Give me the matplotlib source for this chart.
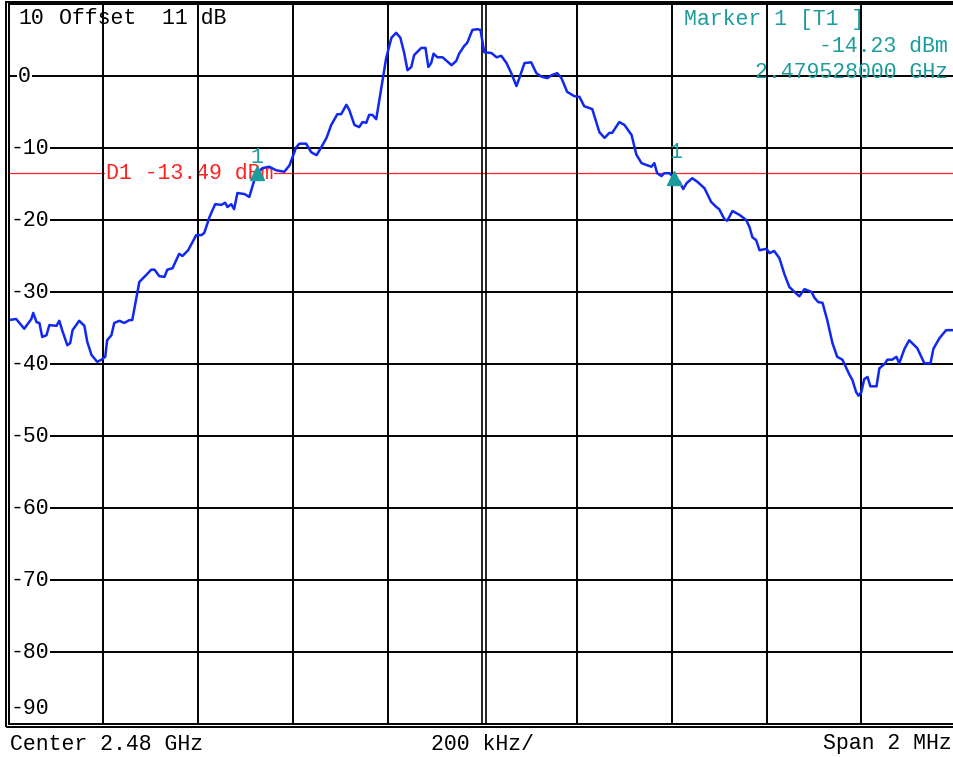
import matplotlib.pyplot as plt
from matplotlib.patches import Rectangle

# trace, offset from centre frequency (kHz) and level (dBm)
freq_khz = [-1000, -984, -967, -952, -948, -941, -935, -929, -920, -914, -899, -893,
            -887, -876, -870, -865, -851, -840, -834, -825, -813, -804, -796, -792,
            -783, -777, -766, -756, -745, -739, -724, -709, -699, -692, -682, -671,
            -665, -654, -640, -633, -621, -604, -593, -587, -576, -564, -551, -543,
            -538, -530, -524, -517, -502, -492, -477, -464, -450, -435, -418, -407,
            -393, -386, -372, -361, -350, -340, -329, -319, -306, -298, -287, -281,
            -270, -260, -253, -245, -239, -232, -224, -213, -203, -192, -182, -173,
            -165, -158, -150, -144, -129, -120, -114, -108, -103, -95, -84, -65,
            -55, -49, -38, -32, -21, -11, -4, 4, 19, 30, 40, 51,
            61, 72, 78, 89, 103, 114, 125, 137, 146, 158, 167, 179,
            194, 205, 215, 232, 247, 258, 268, 274, 289, 300, 315, 325,
            336, 348, 357, 363, 369, 378, 384, 395, 405, 416, 424, 431,
            443, 454, 469, 483, 494, 500, 511, 517, 528, 543, 557, 564,
            570, 578, 585, 600, 606, 616, 627, 638, 648, 659, 669, 680,
            695, 701, 709, 718, 728, 739, 749, 760, 775, 781, 789, 794,
            800, 806, 813, 819, 832, 838, 849, 855, 865, 874, 880, 891,
            901, 912, 918, 933, 946, 952, 965, 979, 1000]
level_dbm = [-33.9, -33.75, -35.1, -33.75, -32.9, -34.2, -34.3, -36.25, -36.0, -34.6, -34.7, -34.0,
             -35.3, -37.4, -37.1, -35.3, -34.0, -34.7, -36.9, -38.75, -39.7, -39.4, -39.0, -36.7,
             -36.0, -34.3, -34.0, -34.3, -33.9, -33.9, -28.6, -27.6, -26.9, -26.9, -27.8, -27.9,
             -26.9, -26.7, -24.7, -25.0, -24.2, -22.1, -22.1, -21.8, -19.6, -17.8, -17.9, -17.6,
             -18.2, -17.8, -18.5, -16.25, -16.4, -16.8, -13.5, -12.8, -12.6, -13.1, -13.3, -12.4,
             -9.9, -9.4, -9.4, -10.6, -11.0, -9.9, -8.6, -6.8, -5.3, -5.3, -4.0, -4.7,
             -6.8, -7.1, -6.4, -6.5, -5.4, -5.4, -6.0, -1.5, 2.5, 5.3, 6.0, 5.3,
             3.2, 0.8, 1.25, 2.9, 3.9, 3.9, 1.25, 1.8, 3.1, 2.6, 2.6, 1.5,
             2.1, 3.1, 4.2, 4.6, 6.4, 6.5, 6.4, 3.3, 3.2, 2.6, 2.8, 1.8,
             0.4, -1.4, -0.3, 1.8, 1.9, 0.4, -0.1, -0.3, 0.1, 0.4, -0.3, -2.2,
             -2.8, -2.9, -4.2, -4.6, -7.8, -8.6, -7.9, -7.9, -6.4, -6.8, -8.2, -10.9,
             -12.1, -12.4, -12.6, -12.1, -13.5, -13.9, -13.5, -13.5, -14.2, -14.7, -15.7, -14.9,
             -14.2, -14.7, -15.6, -17.5, -18.2, -18.5, -19.9, -20.1, -18.75, -19.3, -20.0, -21.0,
             -22.4, -22.8, -24.2, -24.0, -24.6, -24.3, -25.3, -27.6, -29.3, -30.0, -30.6, -29.6,
             -30.0, -30.8, -31.4, -31.5, -33.9, -37.1, -39.0, -39.4, -41.5, -42.2, -43.9, -44.4,
             -43.9, -42.1, -41.8, -43.1, -43.1, -40.6, -40.0, -39.4, -39.4, -39.0, -39.9, -37.9,
             -36.7, -37.4, -37.8, -39.9, -39.9, -37.9, -36.4, -35.3, -35.3]

marker_freq = [-475, 405]
marker_level = [-13.5, -14.23]
display_line = -13.49
y_ticks = [10, 0, -10, -20, -30, -40, -50, -60, -70, -80, -90]
v_grid = [-800, -600, -400, -200, 200, 400, 600, 800]

mono = 'Liberation Mono'
fs = 15.5
teal = '#1c9c9c'
red = '#ff2020'
blue = '#1028f0'

W, H = 954, 757
fig = plt.figure(figsize=(W / 100, H / 100), dpi=100)
ax = fig.add_axes([8.6 / W, 33 / H, 947.5 / W, 720 / H])
ax.set_xlim(-1000, 1000)
ax.set_ylim(-90, 10)
ax.set_xticks([])
ax.set_yticks([])
for s in ax.spines.values():
    s.set_linewidth(1.4)
    s.set_zorder(10)

# outer frame line
fig.add_artist(Rectangle((5.6 / W, 30 / H), 960 / W, 725.5 / H, transform=fig.transFigure,
                         fill=False, lw=1.4, ec='black'))

# grid
for v in y_ticks[1:-1]:
    ax.axhline(v, color='black', lw=1.4, zorder=3)
for f in v_grid:
    ax.axvline(f, color='black', lw=1.4, zorder=3)
ax.axvline(0, color='black', lw=1.2, zorder=3)
ax.axvline(7, color='black', lw=1.2, zorder=3)

# y labels
for v in y_ticks:
    dx = 1.5 if v < 0 else 9.5
    dy = 0
    if v == y_ticks[0]:
        dy = -14
    if v == y_ticks[-1]:
        dy = 16
    ax.annotate(str(v), xy=(0, v),
                xycoords=('axes fraction', 'data'), xytext=(dx * 0.72, dy * 0.72),
                textcoords='offset points', ha='left', va='center', family=mono,
                fontsize=fs, zorder=6,
                bbox=dict(fc='white', ec='none', pad=1.0))

# display line D1
ax.axhline(display_line, color=red, lw=0.9, zorder=1)
ax.annotate('D1 %.2f dBm' % display_line, xy=(-800, display_line), xytext=(2, 0),
            textcoords='offset points', ha='left', va='center', color=red,
            family=mono, fontsize=fs, zorder=2,
            bbox=dict(fc='white', ec='none', pad=0.5))

# trace
ax.plot(freq_khz, level_dbm, color=blue, lw=1.8, zorder=4)

# markers
ax.plot(marker_freq, marker_level, ls='none', marker='^', ms=9.5, color=teal, zorder=5)
ax.annotate('1', xy=(marker_freq[0], marker_level[0]), xytext=(0, 11),
            textcoords='offset points', ha='center', va='center', color=teal,
            family=mono, fontsize=fs, zorder=5)
ax.annotate('1', xy=(marker_freq[1], marker_level[1]), xytext=(1.5, 19),
            textcoords='offset points', ha='center', va='center', color=teal,
            family=mono, fontsize=fs, zorder=5)

# header / footer texts
def ftext(x, y, s, **kw):
    fig.text(x / W, 1 - y / H, s, family=mono, fontsize=fs, va='center', **kw)

ftext(59, 18, 'Offset  11 dB')
ftext(684, 20, 'Marker 1 [T1 ]', color=teal)
ftext(948, 46, '%.2f dBm' % marker_level[1], color=teal, ha='right')
ftext(948, 73, '2.479528000 GHz', color=teal, ha='right')
ftext(10, 744, 'Center 2.48 GHz')
ftext(431, 744, '200 kHz/')
ftext(952, 744, 'Span 2 MHz', ha='right')

fig.savefig('out.png', dpi=100)
